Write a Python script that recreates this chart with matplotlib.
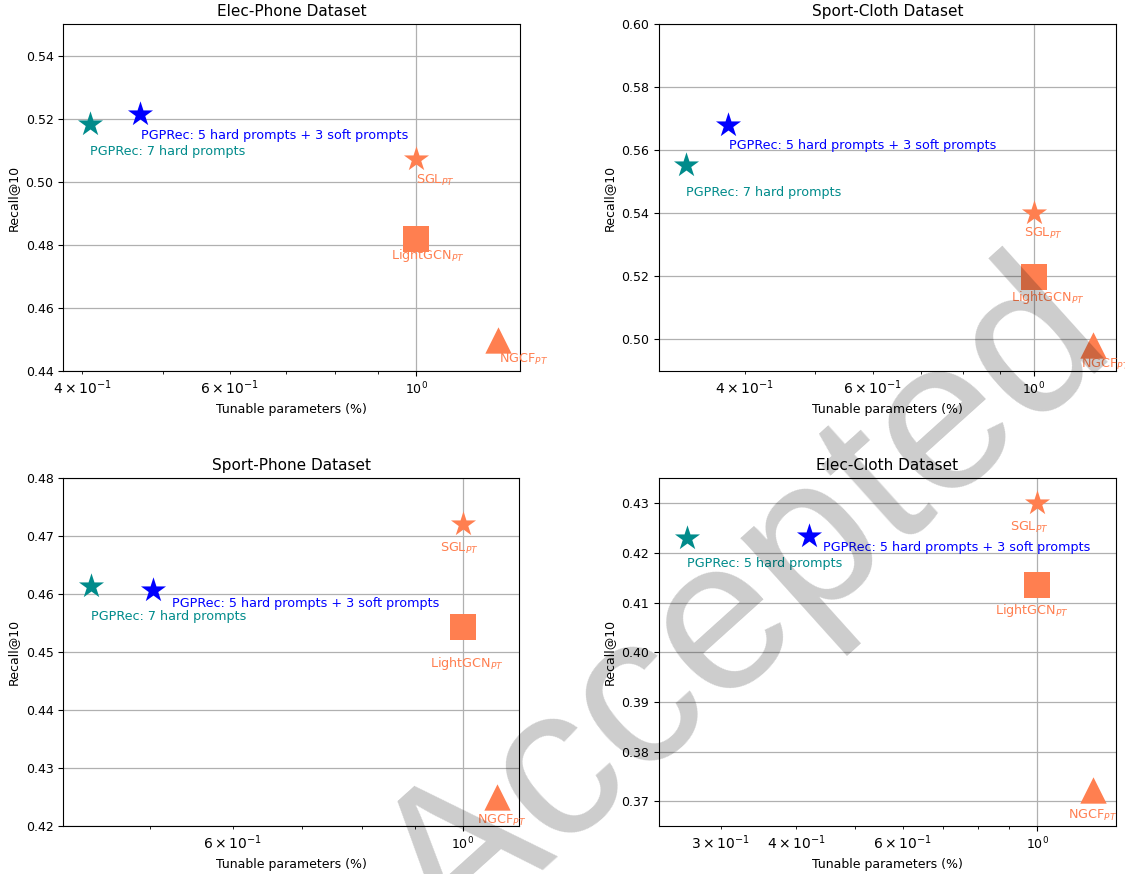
import matplotlib
matplotlib.use("Agg")
import matplotlib.pyplot as plt

# ---------------- data ----------------
titles = ["Elec-Phone Dataset", "Sport-Cloth Dataset", "Sport-Phone Dataset", "Elec-Cloth Dataset"]
method_keys = ["hard", "hardsoft", "SGL", "LightGCN", "NGCF"]

params_elec_phone = [0.409, 0.469, 1.0, 1.0, 1.25]
recall_elec_phone = [0.5183, 0.5215, 0.5071, 0.4820, 0.4498]

params_sport_cloth = [0.332, 0.380, 1.0, 1.0, 1.206]
recall_sport_cloth = [0.5553, 0.5681, 0.5400, 0.5197, 0.4983]

params_sport_phone = [0.438, 0.503, 1.0, 1.0, 1.080]
recall_sport_phone = [0.4614, 0.4608, 0.4721, 0.4543, 0.4250]

params_elec_cloth = [0.264, 0.420, 1.0, 1.0, 1.239]
recall_elec_cloth = [0.4230, 0.4233, 0.4300, 0.4136, 0.3723]

hard_labels = ["PGPRec: 7 hard prompts", "PGPRec: 7 hard prompts",
               "PGPRec: 7 hard prompts", "PGPRec: 5 hard prompts"]
hardsoft_label = "PGPRec: 5 hard prompts + 3 soft prompts"
baseline_labels = ["SGL$_{PT}$", "LightGCN$_{PT}$", "NGCF$_{PT}$"]

yticks_list = [
    [0.44, 0.46, 0.48, 0.50, 0.52, 0.54],
    [0.50, 0.52, 0.54, 0.56, 0.58, 0.60],
    [0.42, 0.43, 0.44, 0.45, 0.46, 0.47, 0.48],
    [0.37, 0.38, 0.39, 0.40, 0.41, 0.42, 0.43],
]

all_params = [params_elec_phone, params_sport_cloth, params_sport_phone, params_elec_cloth]
all_recall = [recall_elec_phone, recall_sport_cloth, recall_sport_phone, recall_elec_cloth]

# ---------------- layout / style ----------------
W, H = 1125, 874
axes_px = [  # left, top, right, bottom in pixels
    (63.3, 24.0, 520.0, 371.0),
    (659.0, 24.0, 1115.5, 371.0),
    (63.3, 478.3, 519.3, 826.0),
    (659.0, 478.3, 1115.7, 826.3),
]
xlims = [(0.380, 1.328), (0.305, 1.296), (0.412, 1.134), (0.237, 1.349)]
ylims = [(0.44, 0.55), (0.49, 0.60), (0.42, 0.48), (0.365, 0.435)]

colors = ["#008B8B", "#0000FF", "#FF7F50", "#FF7F50", "#FF7F50"]
markers = ["*", "*", "*", "s", "^"]
msize = 360

# label offsets in pixels (dx, dy) per subplot, per method
label_offsets = [
    [(0, -27.6), (1, -22), (0, -21), (-25.7, -17.3), (1, -19.4)],
    [(0, -27.6), (0.7, -21.3), (-9.7, -20.6), (-22.7, -20.2), (-11.5, -19.3)],
    [(0, -30.6), (18.5, -14), (-23, -24.4), (-32.6, -36), (-20.8, -23.2)],
    [(0, -26), (13.4, -11.4), (-26.6, -24.4), (-42.1, -25.4), (-25.3, -25.5)],
]

FS = 9.2
fig = plt.figure(figsize=(W / 100, H / 100), dpi=100)

for i in range(4):
    l, t, r, b = axes_px[i]
    ax = fig.add_axes([l / W, 1 - b / H, (r - l) / W, (b - t) / H])
    ax.set_xscale("log")
    ax.set_axisbelow(True)
    ax.grid(True, which="major", color="#b0b0b0", linewidth=0.9)
    xs, ys = all_params[i], all_recall[i]
    texts = [hard_labels[i], hardsoft_label] + baseline_labels
    for j in range(len(method_keys)):
        ax.scatter([xs[j]], [ys[j]], s=msize, marker=markers[j], color=colors[j],
                   linewidths=0, zorder=3)
        dx, dy = label_offsets[i][j]
        ax.annotate(texts[j], (xs[j], ys[j]), xytext=(dx, dy), textcoords="offset pixels",
                    ha="left", va="center", color=colors[j], fontsize=FS, zorder=4,
                    annotation_clip=False)
    ax.set_xlim(*xlims[i])
    ax.set_ylim(*ylims[i])
    ax.set_yticks(yticks_list[i])
    ax.set_yticklabels(["{:.2f}".format(v) for v in yticks_list[i]])
    ax.tick_params(labelsize=9)
    ax.set_title(titles[i], fontsize=11)
    ax.set_xlabel("Tunable parameters (%)", fontsize=9)
    ax.set_ylabel("Recall@10", fontsize=9)

fig.text(748 / W, 1 - 610 / H, "Accepted", rotation=42, fontsize=155,
         family="Liberation Sans", color="black", alpha=0.2,
         ha="center", va="center", zorder=20)

fig.savefig("out.png", dpi=100)
